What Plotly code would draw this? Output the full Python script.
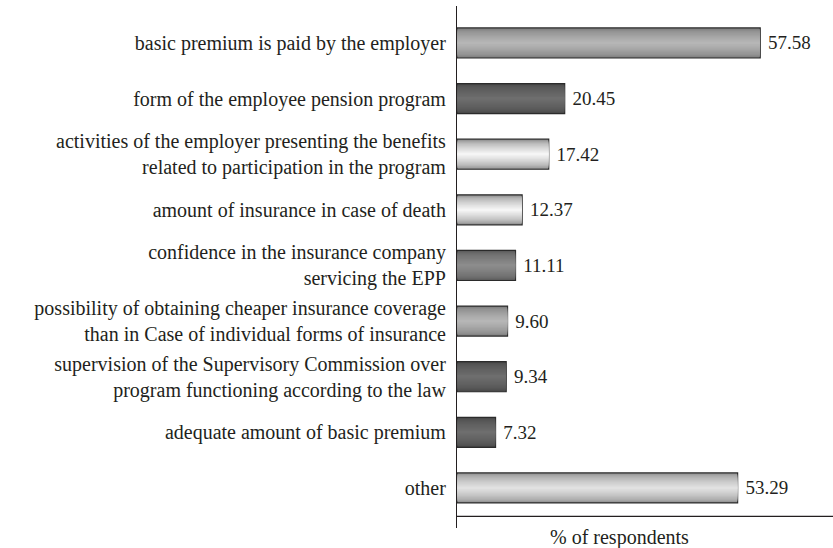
import plotly.graph_objects as go

categories = [
    "basic premium is paid by the employer",
    "form of the employee pension program",
    "activities of the employer presenting the benefits<br>related to participation in the program",
    "amount of insurance in case of death",
    "confidence in the insurance company<br>servicing the EPP",
    "possibility of obtaining cheaper insurance coverage<br>than in Case of individual forms of insurance",
    "supervision of the Supervisory Commission over<br>program functioning according to the law",
    "adequate amount of basic premium",
    "other",
]
values = [57.58, 20.45, 17.42, 12.37, 11.11, 9.60, 9.34, 7.32, 53.29]
value_labels = ["57.58", "20.45", "17.42", "12.37", "11.11", "9.60", "9.34", "7.32", "53.29"]
axis_title = "% of respondents"

# styling: (edge colour, middle highlight colour) for each bar
edge_rgb = [(125, 125, 125), (72, 72, 72), (140, 140, 140), (140, 140, 140), (92, 92, 92),
            (125, 125, 125), (72, 72, 72), (72, 72, 72), (143, 143, 143)]
mid_rgb = [(182, 182, 182), (110, 110, 110), (245, 245, 245), (245, 245, 245), (140, 140, 140),
           (182, 182, 182), (110, 110, 110), (110, 110, 110), (225, 225, 225)]

FONT = "Liberation Serif, Times New Roman, serif"
TXT = "#231f20"
BAR_W = 0.54
N = 14

fig = go.Figure()

def col(e, m, t):
    return "rgb(%d,%d,%d)" % tuple(round(e[i] + (m[i] - e[i]) * t) for i in range(3))

# base bar with border and value labels
fig.add_trace(go.Bar(
    y=categories, x=values, orientation="h", width=BAR_W,
    marker=dict(color=[col(e, m, 0) for e, m in zip(edge_rgb, mid_rgb)],
                line=dict(color="#2b2b2b", width=1.2)),
    text=[" " + s for s in value_labels], textposition="outside", cliponaxis=False,
    textfont=dict(family=FONT, size=19, color=TXT),
    hoverinfo="skip",
))
# gradient layers
for k in range(1, N):
    frac = k / (N - 1)
    t = frac ** 0.6
    w = BAR_W * (1 - k / N) - 0.01
    fig.add_trace(go.Bar(
        y=categories, x=[v - 0.12 for v in values], base=[0.06] * len(values),
        orientation="h", width=w,
        marker=dict(color=[col(e, m, t) for e, m in zip(edge_rgb, mid_rgb)], line=dict(width=0)),
        hoverinfo="skip",
    ))

fig.update_layout(
    width=833, height=548,
    margin=dict(l=457, r=0, t=6, b=20),
    barmode="overlay",
    showlegend=False,
    plot_bgcolor="white", paper_bgcolor="white",
    font=dict(family=FONT, size=20, color=TXT),
    xaxis=dict(range=[0, 71.4], showticklabels=False, showgrid=False, zeroline=False,
               showline=False, ticks=""),
    yaxis=dict(type="category", categoryorder="array", categoryarray=categories,
               range=[8.72, -0.665], showgrid=False, zeroline=False,
               showline=True, linecolor="#231f20", linewidth=1.2,
               ticks="outside", ticklen=6, tickcolor="rgba(0,0,0,0)",
               tickfont=dict(family=FONT, size=20, color=TXT)),
    shapes=[dict(type="line", xref="paper", yref="y", x0=0, x1=1, y0=8.51, y1=8.51,
                 line=dict(color="#231f20", width=1.2))],
    annotations=[dict(text=axis_title, xref="paper", yref="paper", x=0.4335, y=-0.019,
                      xanchor="center", yanchor="middle", showarrow=False,
                      font=dict(family=FONT, size=20, color=TXT))],
)

fig.write_html("out.html")
